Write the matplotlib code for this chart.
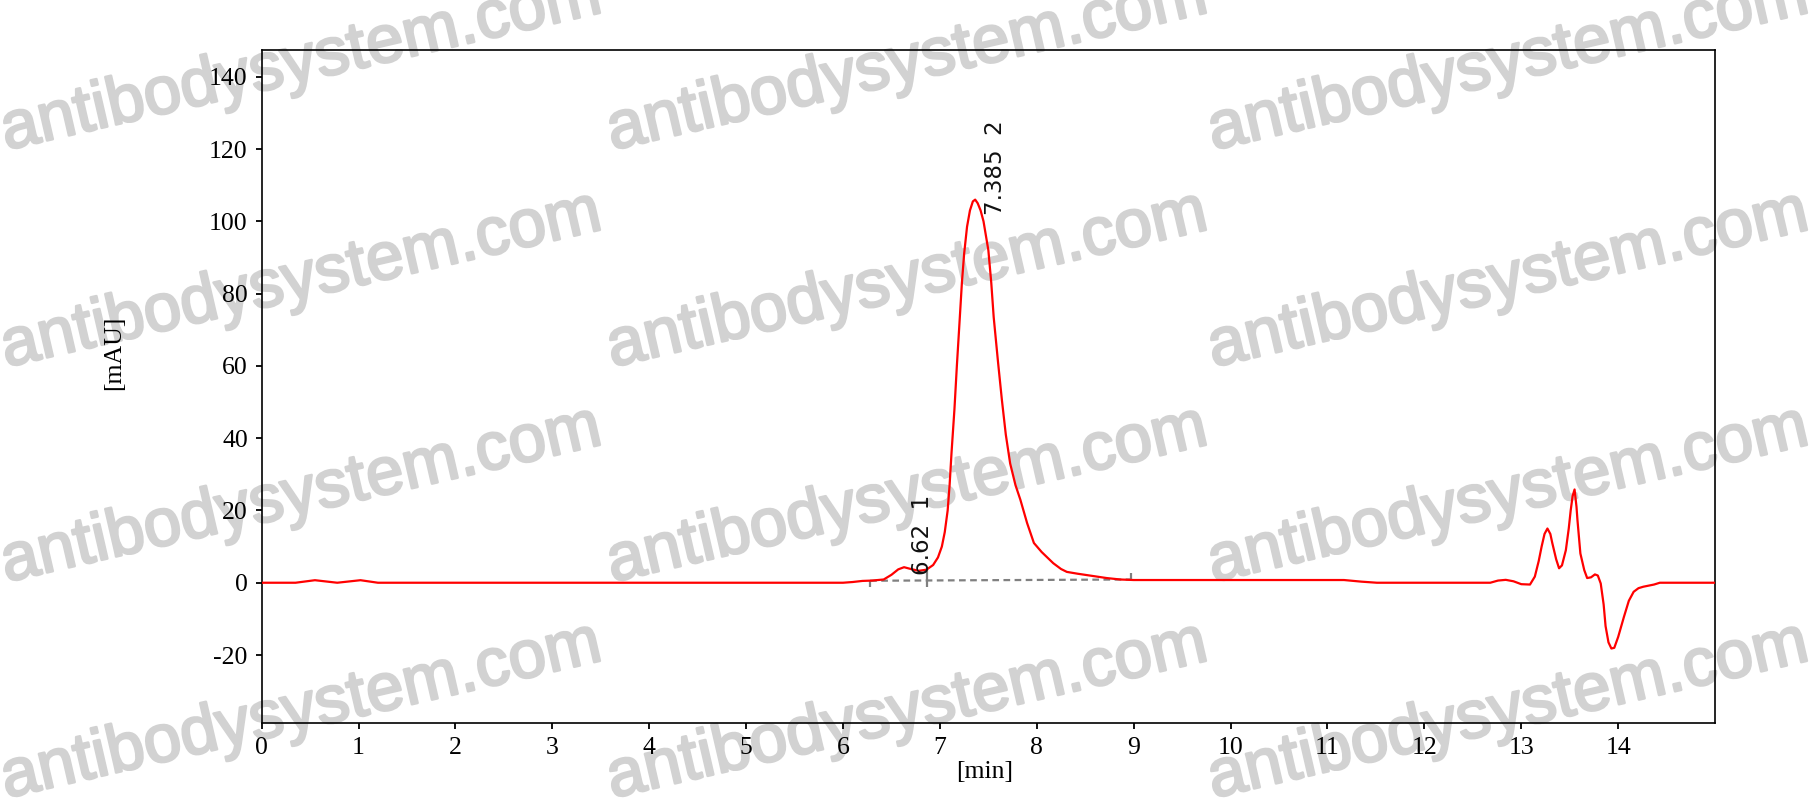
import matplotlib
matplotlib.use("Agg")
import matplotlib.pyplot as plt
import matplotlib.patheffects as path_effects
import numpy as np

FIGSIZE = (18.12, 8.05)

# chromatogram trace: time [min], signal [mAU]
times = [
    0.0, 0.35, 0.55, 0.78, 1.02, 1.2, 6.0, 6.1, 6.2, 6.3, 6.42, 6.5, 6.57,
    6.63, 6.7, 6.78, 6.86, 6.93, 6.98, 7.02, 7.05, 7.08, 7.1, 7.12, 7.15,
    7.175, 7.2, 7.227, 7.25, 7.28, 7.31, 7.34, 7.364, 7.39, 7.42, 7.45,
    7.5, 7.53, 7.555, 7.6, 7.64, 7.68, 7.725, 7.78, 7.83, 7.9, 7.97, 8.05,
    8.17, 8.25, 8.31, 8.42, 8.52, 8.62, 8.72, 8.86, 9.0, 11.17, 11.35,
    11.51, 12.68, 12.76, 12.84, 12.92, 13.0, 13.09, 13.14, 13.18, 13.21,
    13.24, 13.27, 13.3, 13.32, 13.36, 13.39, 13.42, 13.46, 13.49, 13.51,
    13.53, 13.55, 13.57, 13.58, 13.61, 13.65, 13.68, 13.72, 13.76, 13.79,
    13.82, 13.85, 13.87, 13.9, 13.93, 13.96, 14.0, 14.06, 14.11, 14.16,
    14.21, 14.26, 14.37, 14.43, 15.0,
]
signal = [
    0.0, 0.0, 0.7, 0.0, 0.7, 0.0, 0.0, 0.2, 0.5, 0.6, 0.9, 2.2, 3.7,
    4.3, 3.8, 3.3, 3.6, 4.9, 7.0, 10.0, 14.0, 20.0, 27.0, 36.0, 48.0,
    60.0, 71.0, 83.0, 91.0, 98.5, 103.0, 105.5, 106.0, 105.0, 103.0, 100.0,
    92.0, 83.0, 73.5, 61.0, 50.5, 41.0, 33.0, 27.0, 23.0, 16.5, 11.0, 8.5,
    5.4, 3.8, 3.0, 2.5, 2.1, 1.7, 1.3, 0.9, 0.75, 0.75, 0.3,
    0.0, 0.0, 0.6, 0.8, 0.4, -0.4, -0.5, 1.7, 6.0, 10.0,
    13.5, 15.0, 13.5, 11.0, 6.5, 4.0, 4.8, 9.0, 15.0, 20.0,
    24.0, 25.8, 21.0, 17.3, 8.1, 3.5, 1.3, 1.5, 2.3, 2.0,
    -0.2, -6.0, -12.0, -16.5, -18.2, -18.0, -15.0, -9.4, -5.0, -2.5,
    -1.5, -1.1, -0.5, 0.0, 0.0,
]

# integration baseline and peak marks
baseline_t = [6.28, 8.975]
baseline_v = [0.55, 0.9]
mark_t = [6.28, 6.87, 8.975]
mark_lo = [-1.2, -1.1, 0.9]
mark_hi = [0.55, 4.4, 2.6]

peak_labels = ["6.62  1", "7.385  2"]
peak_label_t = [6.82, 7.57]
peak_label_v = [2.1, 101.7]

x_ticks = list(range(0, 15))
y_ticks = list(range(-20, 141, 20))

plt.rcParams["axes.unicode_minus"] = False

figure = plt.figure(figsize=FIGSIZE, dpi=100)
axis = figure.add_axes([0.1444, 0.1019, 0.8021, 0.836])
axis.patch.set_alpha(0)

# watermark
for wy in (150, 367, 582, 798):
    for wx in (6, 612, 1213):
        figure.text(wx / 1812, 1 - wy / 805, "antibodysystem.com",
                    fontsize=48.5, family="Liberation Sans",
                    color="#d2d2d2", rotation=13, rotation_mode="anchor",
                    ha="left", va="baseline", zorder=-5,
                    path_effects=[path_effects.withStroke(linewidth=1.8, foreground="#d2d2d2")])

axis.plot(times, signal, c="red", lw=1.6, zorder=3)
axis.plot(baseline_t, baseline_v, c="gray", lw=1.6, linestyle=(0, (3, 2)), zorder=2)
axis.vlines(mark_t, mark_lo, mark_hi, colors="gray", lw=1.6, zorder=2)

for text, t, v in zip(peak_labels, peak_label_t, peak_label_v):
    axis.text(t, v, text, rotation=90, ha="center", va="bottom",
              fontsize=16.5, family="DejaVu Sans", color="#111111")

axis.set_xlim(0, 15)
axis.set_ylim(-38.8, 147.4)
axis.set_xticks(x_ticks)
axis.set_yticks(y_ticks)

for spine in axis.spines.values():
    spine.set_linewidth(1.2)
axis.tick_params(direction="out", length=4, width=1.3, pad=6,
                 labelsize=18.5, labelfontfamily="Liberation Serif")

axis.set_xlabel("[min]", fontsize=18.5, family="Liberation Serif")
axis.set_ylabel("[mAU]", fontsize=18.5, family="Liberation Serif")
axis.xaxis.set_label_coords(0.4977, -0.057)
axis.yaxis.set_label_coords(-0.094, 0.55)

figure.savefig("out.png", dpi=100)
